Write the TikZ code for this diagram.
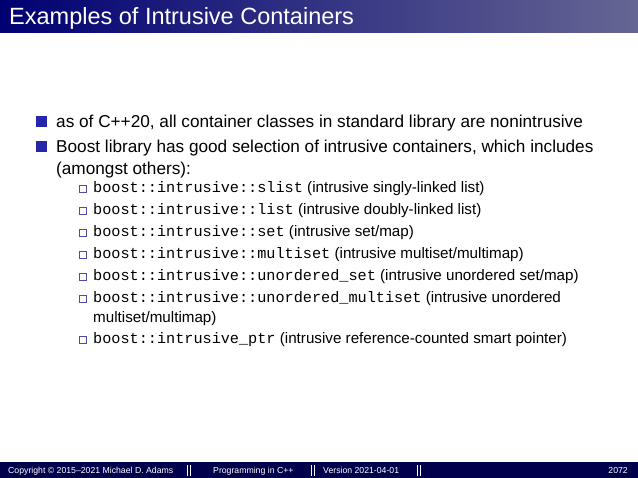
\documentclass[tikz,border=0pt]{standalone}
\usepackage{fontspec}
\setmainfont{Liberation Sans}
\setmonofont{Liberation Mono}
\begin{document}
\begin{tikzpicture}[x=1pt,y=-1pt,
  txt/.style={anchor=base west,inner sep=0pt,font=\fontsize{17.2}{20}\selectfont},
  sub/.style={anchor=base west,inner sep=0pt,font=\fontsize{15.2}{17}\selectfont},
  foot/.style={anchor=base west,inner sep=0pt,text=white,font=\fontsize{8.7}{10}\selectfont},
  bul/.style={fill=blue!60!black!85,draw=none},
  sbul/.style={draw=blue!50!black!70,line width=0.6pt,fill=white}]
\useasboundingbox (0,0) rectangle (638,478);
\shade[left color=blue!45!black, right color=blue!30!black!60!white] (0,0) rectangle (638,33);
\node[anchor=base west,inner sep=0pt,text=white,font=\fontsize{23.5}{26}\selectfont] (title) at (9,25) {Examples of Intrusive Containers};
\fill[blue!30!black] (0,462) rectangle (638,478);
\fill[bul] (36,116) rectangle (47,127);
\node[txt] (l1) at (56,128) {as of C++20, all container classes in standard library are nonintrusive};
\fill[bul] (36,141) rectangle (47,152);
\node[txt] (l2) at (56,153) {Boost library has good selection of intrusive containers, which includes};
\node[txt] (l3) at (56,175) {(amongst others):};
\foreach \y/\t [count=\i] in {
 193/{\texttt{boost::intrusive::slist} (intrusive singly-linked list)},
 215/{\texttt{boost::intrusive::list} (intrusive doubly-linked list)},
 237/{\texttt{boost::intrusive::set} (intrusive set/map)},
 259/{\texttt{boost::intrusive::multiset} (intrusive multiset/multimap)},
 281/{\texttt{boost::intrusive::unordered\_set} (intrusive unordered set/map)},
 303/{\texttt{boost::intrusive::unordered\_multiset} (intrusive unordered},
 344/{\texttt{boost::intrusive\_ptr} (intrusive reference-counted smart pointer)}}{
  \draw[sbul] (79,\y-8) rectangle (86,\y-1);
  \node[sub] (s\i) at (93,\y) {\t};
}
\node[sub] (s6b) at (93,323) {multiset/multimap)};
\node[foot] (f1) at (8,473.5) {Copyright \textcopyright\ 2015--2021 Michael D. Adams};
\node[foot] (f2) at (213,473.5) {Programming in C++};
\node[foot] (f3) at (323,473.5) {Version 2021-04-01};
\node[anchor=base east,inner sep=0pt,text=white,font=\fontsize{8.7}{10}\selectfont] (f4) at (628,473.5) {2072};
\foreach \x in {187,311,417}{\fill[white] (\x,465) rectangle (\x+1.3,476); \fill[white] (\x+3,465) rectangle (\x+4.3,476);}
\end{tikzpicture}
\end{document}
